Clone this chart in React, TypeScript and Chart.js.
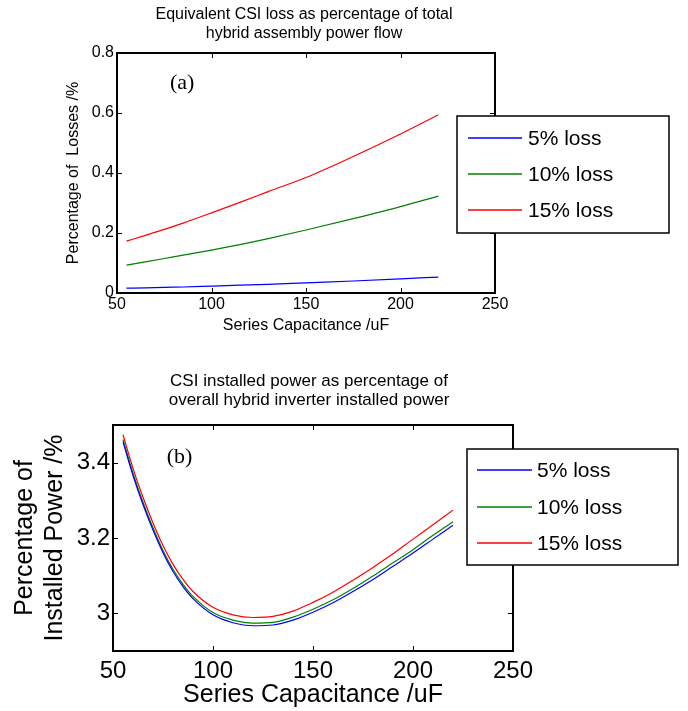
import React, { useEffect, useRef } from "react";
import { Chart, registerables } from "chart.js";
Chart.register(...registerables);

// ---------- data ----------
const seriesLabels = ["5% loss", "10% loss", "15% loss"];
const seriesColors = ["#0000ff", "#008000", "#ff0000"];
const xTicks = [50, 100, 150, 200, 250];

// chart (a): equivalent CSI loss (%)
const capA = [55, 65, 75, 85, 100, 115, 130, 150, 175, 200, 220];
const lossA5 = [0.016, 0.017, 0.019, 0.02, 0.023, 0.026, 0.029, 0.034, 0.04, 0.047, 0.053];
const lossA10 = [0.093, 0.104, 0.115, 0.126, 0.143, 0.161, 0.181, 0.21, 0.248, 0.288, 0.323];
const lossA15 = [0.173, 0.192, 0.212, 0.233, 0.267, 0.302, 0.338, 0.385, 0.455, 0.53, 0.594];
const yTicksA = [0, 0.2, 0.4, 0.6, 0.8];

// chart (b): CSI installed power (%)
const capB = [55, 60, 65, 70, 75, 80, 85, 90, 100, 110, 120, 130, 140, 150, 160, 170, 180, 190, 200, 210, 220];
const powB5 = [3.455, 3.366, 3.289, 3.221, 3.161, 3.111, 3.071, 3.039, 2.996, 2.975, 2.967, 2.969, 2.982, 3.003, 3.028, 3.058, 3.09, 3.125, 3.16, 3.197, 3.234];
const powB10 = [3.461, 3.372, 3.295, 3.227, 3.167, 3.117, 3.077, 3.045, 3.002, 2.982, 2.974, 2.976, 2.99, 3.011, 3.036, 3.066, 3.099, 3.134, 3.169, 3.207, 3.243];
const powB15 = [3.474, 3.385, 3.308, 3.24, 3.18, 3.13, 3.09, 3.058, 3.016, 2.996, 2.989, 2.992, 3.006, 3.029, 3.056, 3.088, 3.122, 3.158, 3.197, 3.235, 3.274];
const yTicksB = [3, 3.2, 3.4];

const SANS = "'Liberation Sans', Arial, sans-serif";
const SERIF = "'Liberation Serif', 'Times New Roman', serif";

type Cfg = {
  width: number;
  height: number;
  area: { left: number; top: number; right: number; bottom: number };
  xs: number[];
  series: number[][];
  yMin: number;
  yMax: number;
  yTicks: number[];
  tickFont: number;
  tickPadX: number;
  yTitle: string | string[];
  yTitleFont: number;
  yTitlePad: number;
  xTitleFont: number;
  xTitlePad: number;
  titleLines: string[];
  titleFont: number;
  titleYs: number[];
  titleX: number;
  tag: string;
  tagPos: [number, number];
  legend: { x: number; y: number; w: number; h: number; lineX0: number; lineX1: number; textX: number; rows: number[]; font: number };
};

const framePlugin = {
  id: "frame",
  afterDatasetsDraw(chart: any, _args: any, opts: any) {
    const c: Cfg = opts.cfg;
    const ctx = chart.ctx;
    const { left, right, top, bottom } = chart.chartArea;
    const xs = chart.scales.x;
    const ys = chart.scales.y;
    ctx.save();
    // inward ticks on all four sides
    ctx.strokeStyle = "#000";
    ctx.lineWidth = 1;
    ctx.beginPath();
    xs.ticks.forEach((t: any) => {
      const p = Math.round(xs.getPixelForValue(t.value)) + 0.5;
      ctx.moveTo(p, bottom); ctx.lineTo(p, bottom - 5);
      ctx.moveTo(p, top); ctx.lineTo(p, top + 5);
    });
    ys.ticks.forEach((t: any) => {
      const p = Math.round(ys.getPixelForValue(t.value)) + 0.5;
      ctx.moveTo(left, p); ctx.lineTo(left + 5, p);
      ctx.moveTo(right, p); ctx.lineTo(right - 5, p);
    });
    ctx.stroke();
    ctx.lineWidth = 2;
    ctx.strokeRect(left, top, right - left, bottom - top);

    // title
    ctx.fillStyle = "#000";
    ctx.font = `${c.titleFont}px ${SANS}`;
    ctx.textAlign = "center";
    ctx.textBaseline = "middle";
    c.titleLines.forEach((s, i) => ctx.fillText(s, c.titleX, c.titleYs[i]));

    // panel tag
    ctx.font = `22px ${SERIF}`;
    ctx.fillText(c.tag, xs.getPixelForValue(c.tagPos[0]), ys.getPixelForValue(c.tagPos[1]));

    // legend
    const L = c.legend;
    ctx.fillStyle = "#fff";
    ctx.fillRect(L.x, L.y, L.w, L.h);
    ctx.strokeStyle = "#000";
    ctx.lineWidth = 1.5;
    ctx.strokeRect(L.x, L.y, L.w, L.h);
    ctx.font = `${L.font}px ${SANS}`;
    ctx.textAlign = "left";
    chart.data.datasets.forEach((ds: any, i: number) => {
      const yy = L.rows[i];
      ctx.strokeStyle = ds.borderColor;
      ctx.lineWidth = 1.3;
      ctx.beginPath();
      ctx.moveTo(L.lineX0, yy);
      ctx.lineTo(L.lineX1, yy);
      ctx.stroke();
      ctx.fillStyle = "#000";
      ctx.fillText(ds.label, L.textX, yy + 1);
    });
    ctx.restore();
  },
};

function PanelChart({ cfg, top }: { cfg: Cfg; top: number }) {
  const ref = useRef<HTMLCanvasElement | null>(null);
  useEffect(() => {
    if (!ref.current) return;
    const c = cfg;
    const fmt = (v: any) => String(+Number(v).toFixed(1));
    const chart = new Chart(ref.current, {
      type: "line",
      data: {
        datasets: c.series.map((vals, i) => ({
          label: seriesLabels[i],
          data: c.xs.map((x, j) => ({ x, y: vals[j] })),
          borderColor: seriesColors[i],
          backgroundColor: seriesColors[i],
          borderWidth: 1.2,
          pointRadius: 0,
          cubicInterpolationMode: "monotone" as const,
          fill: false,
        })),
      },
      options: {
        animation: false,
        responsive: false,
        devicePixelRatio: 1,
        layout: {
          padding: { left: 0, top: c.area.top, right: c.width - c.area.right, bottom: 0 },
        },
        plugins: {
          legend: { display: false },
          tooltip: { enabled: false },
          title: { display: false },
          frame: { cfg: c },
        } as any,
        scales: {
          x: {
            type: "linear",
            min: 50,
            max: 250,
            afterBuildTicks: (s: any) => { s.ticks = xTicks.map((v) => ({ value: v })); },
            afterFit: (s: any) => { s.height = c.height - c.area.bottom; },
            grid: { display: false, drawTicks: false },
            border: { display: false },
            ticks: { color: "#000", padding: c.tickPadX, maxRotation: 0, autoSkip: false, font: { family: SANS, size: c.tickFont }, callback: (v: any) => String(v) },
            title: { display: true, text: "Series Capacitance /uF", color: "#000", font: { family: SANS, size: c.xTitleFont }, padding: { top: 0, bottom: c.xTitlePad } },
          },
          y: {
            type: "linear",
            min: c.yMin,
            max: c.yMax,
            afterBuildTicks: (s: any) => { s.ticks = c.yTicks.map((v) => ({ value: v })); },
            afterFit: (s: any) => { s.width = c.area.left; },
            grid: { display: false, drawTicks: false },
            border: { display: false },
            ticks: { color: "#000", padding: 3, autoSkip: false, font: { family: SANS, size: c.tickFont }, callback: fmt },
            title: { display: true, text: c.yTitle as any, color: "#000", font: { family: SANS, size: c.yTitleFont }, padding: { top: c.yTitlePad, bottom: 0 } },
          },
        },
      },
      plugins: [framePlugin],
    } as any);
    return () => chart.destroy();
  }, [cfg]);
  return (
    <canvas
      ref={ref}
      width={cfg.width}
      height={cfg.height}
      style={{ position: "absolute", left: 0, top, width: cfg.width, height: cfg.height, display: "block" }}
    />
  );
}

const cfgA: Cfg = {
  width: 688,
  height: 345,
  area: { left: 117, top: 53, right: 495, bottom: 293 },
  xs: capA,
  series: [lossA5, lossA10, lossA15],
  yMin: 0,
  yMax: 0.8,
  yTicks: yTicksA,
  tickFont: 16,
  tickPadX: 2,
  yTitle: "Percentage of  Losses /%",
  yTitleFont: 16,
  yTitlePad: 64,
  xTitleFont: 16,
  xTitlePad: 10,
  titleLines: ["Equivalent CSI loss as percentage of total", "hybrid assembly power flow"],
  titleFont: 16,
  titleYs: [15, 34],
  titleX: 304,
  tag: "(a)",
  tagPos: [84.5, 0.7],
  legend: { x: 457, y: 116, w: 212, h: 117, lineX0: 468, lineX1: 522, textX: 528, rows: [138, 174, 210], font: 21 },
};

const cfgB: Cfg = {
  width: 688,
  height: 366,
  area: { left: 113, top: 80, right: 513, bottom: 306 },
  xs: capB,
  series: [powB5, powB10, powB15],
  yMin: 2.9,
  yMax: 3.5,
  yTicks: yTicksB,
  tickFont: 24,
  tickPadX: 6,
  yTitle: ["Percentage of", "Installed Power /%"],
  yTitleFont: 25,
  yTitlePad: 10,
  xTitleFont: 25,
  xTitlePad: 1,
  titleLines: ["CSI installed power as percentage of", "overall hybrid inverter installed power"],
  titleFont: 17,
  titleYs: [36, 55],
  titleX: 309,
  tag: "(b)",
  tagPos: [83.3, 3.415],
  legend: { x: 467, y: 104, w: 211, h: 116, lineX0: 477, lineX1: 532, textX: 537, rows: [125, 162, 198], font: 21 },
};

export default function App() {
  return (
    <div style={{ position: "absolute", left: 0, top: 0, width: 688, height: 711, background: "#fff" }}>
      <PanelChart cfg={cfgA} top={0} />
      <PanelChart cfg={cfgB} top={345} />
    </div>
  );
}
